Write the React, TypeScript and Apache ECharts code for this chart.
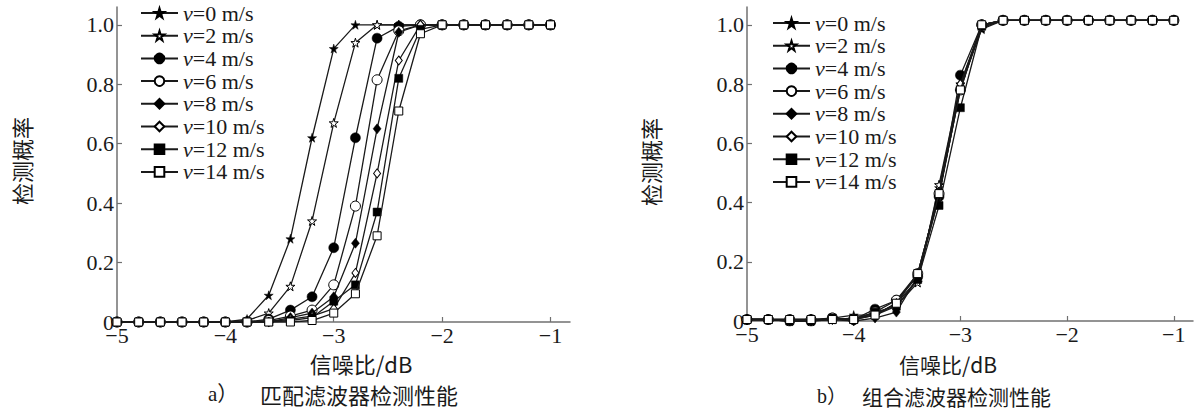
import React, { useEffect, useRef } from "react";
import * as echarts from "echarts";

const SNR = [-5, -4.8, -4.6, -4.4, -4.2, -4.0, -3.8, -3.6, -3.4, -3.2, -3.0, -2.8, -2.6, -2.4, -2.2, -2.0, -1.8, -1.6, -1.4, -1.2, -1.0];
const SPEED_NAMES = ["v=0 m/s", "v=2 m/s", "v=4 m/s", "v=6 m/s", "v=8 m/s", "v=10 m/s", "v=12 m/s", "v=14 m/s"];
const X_TICKS = [-5, -4, -3, -2, -1];
const Y_TICKS = [0, 0.2, 0.4, 0.6, 0.8, 1.0];

// a) matched filter
const A_V0 = [0, 0, 0, 0, 0, 0, 0.01, 0.09, 0.28, 0.62, 0.92, 1, 1, 1, 1, 1, 1, 1, 1, 1, 1];
const A_V2 = [0, 0, 0, 0, 0, 0, 0.005, 0.03, 0.12, 0.34, 0.67, 0.94, 1, 1, 1, 1, 1, 1, 1, 1, 1];
const A_V4 = [0, 0, 0, 0, 0, 0, 0, 0.01, 0.04, 0.085, 0.25, 0.62, 0.955, 0.995, 1, 1, 1, 1, 1, 1, 1];
const A_V6 = [0, 0, 0, 0, 0, 0, 0, 0.005, 0.02, 0.04, 0.125, 0.39, 0.815, 0.98, 1, 1, 1, 1, 1, 1, 1];
const A_V8 = [0, 0, 0, 0, 0, 0, 0, 0, 0.015, 0.03, 0.085, 0.265, 0.65, 0.975, 1, 1, 1, 1, 1, 1, 1];
const A_V10 = [0, 0, 0, 0, 0, 0, 0, 0, 0.01, 0.02, 0.045, 0.165, 0.5, 0.88, 1, 1, 1, 1, 1, 1, 1];
const A_V12 = [0, 0, 0, 0, 0, 0, 0, 0, 0.005, 0.015, 0.07, 0.125, 0.37, 0.82, 0.985, 1, 1, 1, 1, 1, 1];
const A_V14 = [0, 0, 0, 0, 0, 0, 0, 0, 0, 0.005, 0.03, 0.095, 0.29, 0.71, 0.97, 1, 1, 1, 1, 1, 1];

// b) combined filter
const B_V0 = [0.005, 0.005, 0, 0, 0.01, 0.02, 0.02, 0.06, 0.14, 0.45, 0.79, 0.985, 1.015, 1.015, 1.015, 1.015, 1.015, 1.015, 1.015, 1.015, 1.015];
const B_V2 = [0.005, 0.005, 0, 0, 0.005, 0.01, 0.02, 0.05, 0.13, 0.46, 0.8, 0.99, 1.015, 1.015, 1.015, 1.015, 1.015, 1.015, 1.015, 1.015, 1.015];
const B_V4 = [0.005, 0.005, 0, 0, 0.01, 0.005, 0.04, 0.07, 0.15, 0.42, 0.83, 1.0, 1.015, 1.015, 1.015, 1.015, 1.015, 1.015, 1.015, 1.015, 1.015];
const B_V6 = [0.005, 0.005, 0.005, 0.005, 0.01, 0.005, 0.03, 0.07, 0.16, 0.43, 0.78, 1.0, 1.015, 1.015, 1.015, 1.015, 1.015, 1.015, 1.015, 1.015, 1.015];
const B_V8 = [0.005, 0.005, 0, 0, 0.005, 0, 0.01, 0.03, 0.15, 0.42, 0.79, 1.0, 1.015, 1.015, 1.015, 1.015, 1.015, 1.015, 1.015, 1.015, 1.015];
const B_V10 = [0.005, 0.005, 0.005, 0.005, 0.005, 0.005, 0.02, 0.06, 0.16, 0.43, 0.8, 1.0, 1.015, 1.015, 1.015, 1.015, 1.015, 1.015, 1.015, 1.015, 1.015];
const B_V12 = [0.005, 0.005, 0, 0, 0.01, 0.005, 0.03, 0.05, 0.14, 0.39, 0.72, 0.995, 1.015, 1.015, 1.015, 1.015, 1.015, 1.015, 1.015, 1.015, 1.015];
const B_V14 = [0.005, 0.005, 0.005, 0.005, 0.005, 0.005, 0.02, 0.06, 0.16, 0.43, 0.78, 1.0, 1.015, 1.015, 1.015, 1.015, 1.015, 1.015, 1.015, 1.015, 1.015];

const A_SERIES = [A_V0, A_V2, A_V4, A_V6, A_V8, A_V10, A_V12, A_V14];
const B_SERIES = [B_V0, B_V2, B_V4, B_V6, B_V8, B_V10, B_V12, B_V14];

const STAR = "path://M50,0 L61,35 L98,35 L68,57 L79,91 L50,70 L21,91 L32,57 L2,35 L39,35 Z";
const MARKERS = [
  { symbol: STAR, size: 9, fill: "#000" },
  { symbol: STAR, size: 9, fill: "#fff" },
  { symbol: "circle", size: 10, fill: "#000" },
  { symbol: "circle", size: 10, fill: "#fff" },
  { symbol: "diamond", size: [8, 10], fill: "#000" },
  { symbol: "diamond", size: [7, 9], fill: "#fff" },
  { symbol: "rect", size: 8, fill: "#000" },
  { symbol: "rect", size: 8, fill: "#fff" },
];

const SERIF = '"Liberation Serif", "Noto Sans CJK SC", serif';
const CJK = '"Noto Sans CJK SC", "Liberation Serif", sans-serif';
const AXIS_COLOR = "#707070";
const TEXT_COLOR = "#1a1a1a";

function fmtX(v: number) {
  return String(v).replace("-", "\u2212");
}
function fmtY(v: number) {
  return v === 0 ? "0" : v.toFixed(1);
}

function makeAxes(gridIndex: number) {
  const x = {
    type: "value",
    gridIndex,
    min: -5,
    max: -0.82,
    interval: 1,
    axisLine: { show: true, onZero: false, lineStyle: { color: AXIS_COLOR, width: 1.5 } },
    axisTick: { show: true, inside: true, length: 5, customValues: X_TICKS, lineStyle: { color: AXIS_COLOR, width: 1.2 } },
    axisLabel: { customValues: X_TICKS, formatter: fmtX, fontFamily: SERIF, fontSize: 22, lineHeight: 16, color: TEXT_COLOR, margin: 5 },
    splitLine: { show: false },
  };
  const y = {
    type: "value",
    gridIndex,
    min: 0,
    max: 1.06,
    interval: 0.2,
    axisLine: { show: true, lineStyle: { color: AXIS_COLOR, width: 1.5 } },
    axisTick: { show: true, inside: true, length: 5, customValues: Y_TICKS, lineStyle: { color: AXIS_COLOR, width: 1.2 } },
    axisLabel: { customValues: Y_TICKS, formatter: fmtY, fontFamily: SERIF, fontSize: 22, lineHeight: 14, color: TEXT_COLOR, margin: 3 },
    splitLine: { show: false },
  };
  return { x, y };
}

function makeSeries(sets: number[][], idx: number) {
  return sets.map((vals, i) => {
    const m = MARKERS[i];
    return {
      type: "line",
      name: SPEED_NAMES[i],
      xAxisIndex: idx,
      yAxisIndex: idx,
      data: SNR.map((x, k) => [x, vals[k]]),
      symbol: m.symbol,
      symbolSize: m.size,
      showAllSymbol: true,
      lineStyle: { color: "#1a1a1a", width: 1.3 },
      itemStyle: { color: m.fill, borderColor: "#000", borderWidth: m.fill === "#fff" ? 1 : 0.5 },
      emphasis: { disabled: true },
      z: 2 + i,
    };
  });
}

function makeLegend(left: number, top: number) {
  return {
    orient: "vertical",
    left,
    top,
    padding: 0,
    itemWidth: 37,
    itemHeight: 12,
    itemGap: 0.7,
    data: SPEED_NAMES,
    selectedMode: false,
    formatter: (name: string) => `{i|v}${name.slice(1)}`,
    textStyle: {
      fontFamily: SERIF,
      fontSize: 22,
      lineHeight: 22,
      color: TEXT_COLOR,
      rich: { i: { fontFamily: SERIF, fontStyle: "italic", fontSize: 22, lineHeight: 22, color: TEXT_COLOR } },
    },
  };
}

function txt(x: number, y: number, text: string, fontSize: number, font: string, extra: any = {}) {
  return {
    type: "text",
    x,
    y,
    silent: true,
    ...extra,
    style: { text, fontSize, lineHeight: fontSize, fontFamily: font, fill: TEXT_COLOR, align: extra.align || "center", verticalAlign: "middle" },
  };
}

export default function App() {
  const ref = useRef<HTMLDivElement>(null);
  useEffect(() => {
    if (!ref.current) return;
    const chart = echarts.init(ref.current, null, { renderer: "svg" });
    const a = makeAxes(0);
    const b = makeAxes(1);
    chart.setOption({
      animation: false,
      backgroundColor: "#fff",
      grid: [
        { left: 117, top: 7, width: 453, height: 315 },
        { left: 747, top: 7, width: 446, height: 314 },
      ],
      xAxis: [a.x, b.x],
      yAxis: [a.y, b.y],
      legend: [makeLegend(140, 2), makeLegend(772, 12)],
      series: [...makeSeries(A_SERIES, 0), ...makeSeries(B_SERIES, 1)],
      graphic: [
        txt(21, 161, "检测概率", 22, CJK, { rotation: Math.PI / 2 }),
        txt(650, 162, "检测概率", 22, CJK, { rotation: Math.PI / 2 }),
        txt(361, 363, "信噪比/dB", 22, CJK),
        txt(948, 364, "信噪比/dB", 21, CJK),
        txt(208, 394, "a）", 21, SERIF, { align: "left" }),
        txt(260, 394, "匹配滤波器检测性能", 22, CJK, { align: "left" }),
        txt(817, 396, "b）", 20, SERIF, { align: "left" }),
        txt(862, 396, "组合滤波器检测性能", 21, CJK, { align: "left" }),
      ],
    });
    return () => chart.dispose();
  }, []);
  return <div ref={ref} style={{ position: "fixed", left: 0, top: 0, width: 1200, height: 416, background: "#fff" }} />;
}
